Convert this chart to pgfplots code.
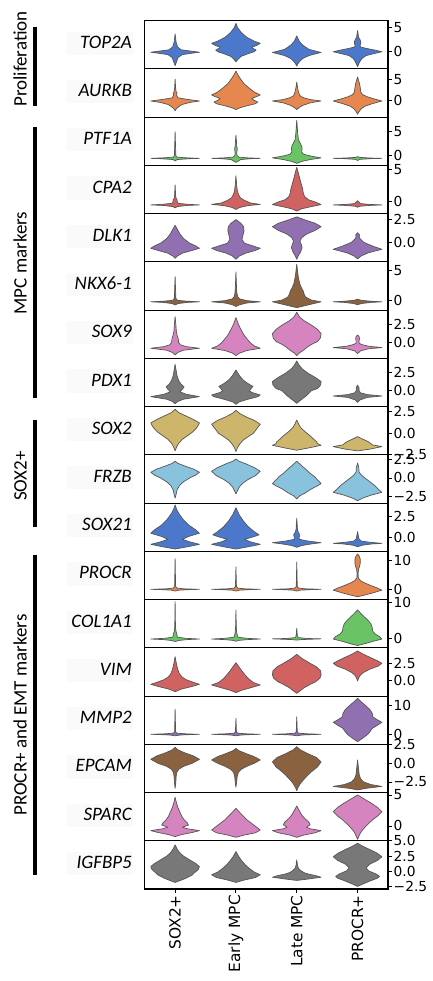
\documentclass[border=0pt]{standalone}
\usepackage{pgfplots}
\pgfplotsset{compat=1.18}
\usepackage{fontspec}
\setmainfont{DejaVu Sans}
\newfontfamily\carlito{Carlito}
\newfontfamily\dejavu{DejaVu Sans}
\newcommand\ticfont{\dejavu\fontsize{13.8}{15}\selectfont}
\newcommand\xfont{\dejavu\fontsize{15.4}{17}\selectfont}

\definecolor{mblue}{HTML}{4C78CC}
\definecolor{morange}{HTML}{E6874F}
\definecolor{mgreen}{HTML}{6AC466}
\definecolor{mred}{HTML}{D06262}
\definecolor{mpurple}{HTML}{9070B0}
\definecolor{mbrown}{HTML}{8A6240}
\definecolor{mpink}{HTML}{D684C0}
\definecolor{mgrey}{HTML}{787878}
\definecolor{mkhaki}{HTML}{CDB56C}
\definecolor{mcyan}{HTML}{88C2DC}
\definecolor{vedge}{HTML}{555555}

% violin: #1 category position, #2 colour, #3 list of y/relative half width
\newcommand\violin[3]{%
  \gdef\vR{}\gdef\vL{}%
  \foreach \yy/\ww in {#3}{%
    \pgfmathsetmacro\xr{#1+0.4*\ww}%
    \pgfmathsetmacro\xl{#1-0.4*\ww}%
    \xdef\vR{\vR(\xr,\yy)}%
    \xdef\vL{(\xl,\yy)\vL}%
  }%
  \edef\vtmp{\noexpand\addplot[draw=vedge, line width=0.7pt, line join=round, fill=#2] coordinates {\vR\vL} -- cycle;}%
  \vtmp
}

\pgfplotsset{
  vrow/.style={
    scale only axis, width=243.3pt, height=48.24pt,
    anchor=north west,
    xmin=-0.5, xmax=3.5, xtick=\empty,
    ytick pos=right, yticklabel pos=right,
    tick align=outside, major tick length=4pt,
    tick style={black, line width=0.9pt},
    axis line style={line width=1.1pt, black},
    yticklabel style={font=\ticfont, inner sep=1.5pt},
    axis on top,
  },
}

\begin{document}
\begin{tikzpicture}
\path[use as bounding box] (0,0) rectangle (433pt,-981pt);

% gene labels with light background
\foreach \g [count=\i from 0] in {TOP2A,AURKB,PTF1A,CPA2,DLK1,NKX6-1,SOX9,PDX1,SOX2,FRZB,SOX21,PROCR,COL1A1,VIM,MMP2,EPCAM,SPARC,IGFBP5}{
  \pgfmathsetmacro\cy{20.7+48.24*\i+24.12}
  \fill[black!2] (67pt,{-(\cy-13.1)*1pt}) rectangle (133pt,{-(\cy+10.2)*1pt});
  \node[anchor=base east, inner sep=0pt, font=\carlito\itshape\fontsize{19}{20}\selectfont] at (132pt,{-(\cy+3.5)*1pt}) {\g};
}

% group brackets
\fill[black] (33.3pt,-26.7pt) rectangle (37.3pt,-106pt);
\fill[black] (33.3pt,-126.7pt) rectangle (37.3pt,-398.3pt);
\fill[black] (33.3pt,-420pt) rectangle (37.3pt,-526.7pt);
\fill[black] (33.3pt,-555pt) rectangle (37.3pt,-875pt);
\begin{scope}[every node/.style={rotate=90, anchor=base, inner sep=0pt, font=\carlito\fontsize{19}{20}\selectfont}]
\node at (26.7pt,-59pt) {Proliferation};
\node at (26.7pt,-263pt) {MPC markers};
\node at (26.7pt,-476pt) {SOX2+};
\node at (26.7pt,-715pt) {PROCR+ and EMT markers};
\end{scope}

% 1 TOP2A
\begin{axis}[vrow, at={(144.7pt,-20.7pt)}, ymin=-3.58, ymax=6.46, ytick={0,5}, yticklabels={0,5}]
\violin{0}{mblue}{-2.9/0, -2.2/0.05, -1.2/0.12, -0.6/0.3, -0.3/0.7, -0.1/1, 0.1/0.7, 0.4/0.25, 1.0/0.1, 2.0/0.04, 3.7/0}
\violin{1}{mblue}{-2.1/0, -1.6/0.08, -1.0/0.2, -0.4/0.5, 0.0/0.75, 0.35/0.83, 0.7/0.7, 0.95/0.65, 1.3/0.85, 1.75/1, 2.2/0.75, 3.0/0.45, 4.0/0.22, 5.0/0.07, 5.9/0}
\violin{2}{mblue}{-3.0/0, -2.5/0.05, -2.0/0.12, -1.4/0.25, -0.8/0.5, -0.4/0.8, -0.15/1, 0.1/0.8, 0.5/0.5, 1.0/0.35, 1.5/0.22, 2.2/0.1, 3.3/0}
\violin{3}{mblue}{-3.1/0, -2.5/0.05, -2.0/0.1, -1.4/0.18, -0.8/0.35, -0.3/0.75, 0.0/1, 0.35/0.7, 0.7/0.35, 1.0/0.12, 1.3/0.1, 1.7/0.13, 2.1/0.13, 2.5/0.1, 3.0/0.04, 4.4/0}
\end{axis}

% 2 AURKB
\begin{axis}[vrow, at={(144.7pt,-68.94pt)}, ymin=-4.02, ymax=7.52, ytick={0,5}, yticklabels={0,5}]
\violin{0}{morange}{-2.5/0, -2.0/0.05, -1.5/0.15, -1.0/0.28, -0.5/0.6, -0.15/1, 0.2/0.55, 0.6/0.12, 1.2/0.06, 1.7/0.08, 2.1/0.04, 3/0.02, 5.1/0}
\violin{1}{morange}{-2.2/0, -1.8/0.15, -1.3/0.45, -0.8/0.8, -0.4/0.9, 0.0/0.75, 0.45/0.65, 0.9/0.85, 1.3/1, 2.0/0.75, 2.9/0.55, 4.0/0.33, 5.2/0.18, 6.2/0.07, 7.0/0}
\violin{2}{morange}{-2.2/0, -1.7/0.1, -1.2/0.25, -0.6/0.55, -0.15/1, 0.2/0.55, 0.6/0.3, 1.0/0.15, 1.5/0.1, 2.2/0.06, 3.2/0.03, 4.4/0}
\violin{3}{morange}{-3.3/0, -2.7/0.06, -2.0/0.15, -1.4/0.3, -0.8/0.6, -0.15/1, 0.4/0.65, 0.9/0.38, 1.4/0.2, 2.0/0.13, 3.0/0.11, 4.0/0.08, 4.8/0.04, 5.6/0}
\end{axis}

% 3 PTF1A
\begin{axis}[vrow, at={(144.7pt,-117.18pt)}, ymin=-2.02, ymax=8.02, ytick={0,5}, yticklabels={0,5}]
\violin{0}{mgreen}{-1.1/0, -0.8/0.08, -0.62/0.6, -0.55/1, -0.45/0.5, -0.3/0.08, 0.0/0.03, 1.5/0.02, 5.0/0}
\violin{1}{mgreen}{-1.4/0, -1.1/0.1, -0.8/0.2, -0.62/0.6, -0.55/1, -0.45/0.5, -0.3/0.12, 0.0/0.05, 0.5/0.03, 1.2/0.05, 1.6/0.05, 2.0/0.03, 3.0/0.02, 4.3/0}
\violin{2}{mgreen}{-1.6/0, -1.2/0.2, -0.8/0.55, -0.45/1, -0.1/0.6, 0.3/0.28, 0.8/0.2, 1.4/0.22, 2.0/0.2, 2.6/0.14, 3.3/0.07, 4.5/0.04, 6/0.02, 7.4/0}
\violin{3}{mgreen}{-1.0/0, -0.75/0.1, -0.6/0.6, -0.55/1, -0.48/0.5, -0.35/0.1, -0.2/0}
\end{axis}

% 4 CPA2
\begin{axis}[vrow, at={(144.7pt,-165.42pt)}, ymin=-1.85, ymax=5.6, ytick={0,5}, yticklabels={0,5}]
\violin{0}{mred}{-0.95/0, -0.75/0.1, -0.58/0.5, -0.5/1, -0.4/0.5, -0.25/0.12, -0.05/0.09, 0.3/0.08, 0.5/0.04, 1.0/0.02, 2.6/0}
\violin{1}{mred}{-1.2/0, -0.9/0.15, -0.6/0.5, -0.42/1, -0.2/0.6, 0.2/0.35, 0.6/0.18, 1.0/0.12, 1.6/0.06, 2.5/0.03, 4.0/0}
\violin{2}{mred}{-1.45/0, -1.1/0.2, -0.8/0.55, -0.45/1, -0.1/0.8, 0.3/0.48, 0.8/0.32, 1.3/0.27, 2.0/0.24, 2.8/0.18, 3.6/0.12, 4.5/0.06, 5.3/0}
\violin{3}{mred}{-0.85/0, -0.7/0.1, -0.58/0.5, -0.5/1, -0.42/0.5, -0.3/0.12, -0.1/0.07, 0.15/0}
\end{axis}

% 5 DLK1
\begin{axis}[vrow, at={(144.7pt,-213.66pt)}, ymin=-2.16, ymax=3.15, ytick={0,2.5}, yticklabels={0.0,2.5}]
\violin{0}{mpurple}{-1.76/0, -1.5/0.1, -1.2/0.3, -0.9/0.7, -0.66/1, -0.4/0.85, -0.1/0.6, 0.4/0.35, 0.9/0.2, 1.3/0.12, 1.87/0}
\violin{1}{mpurple}{-1.87/0, -1.5/0.15, -1.2/0.4, -0.9/0.8, -0.66/1, -0.4/0.7, -0.1/0.35, 0.3/0.25, 0.7/0.28, 1.2/0.33, 1.7/0.32, 2.1/0.2, 2.5/0}
\violin{2}{mpurple}{-1.87/0, -1.5/0.06, -1.1/0.15, -0.6/0.22, -0.2/0.18, 0.1/0.13, 0.5/0.2, 0.9/0.4, 1.3/0.75, 1.72/1, 2.1/0.75, 2.45/0.35, 2.8/0}
\violin{3}{mpurple}{-1.83/0, -1.5/0.15, -1.15/0.45, -0.77/1, -0.4/0.6, 0.0/0.25, 0.4/0.1, 0.6/0.06, 0.8/0.08, 1.06/0}
\end{axis}

% 6 NKX6-1
\begin{axis}[vrow, at={(144.7pt,-261.9pt)}, ymin=-1.72, ymax=6.5, ytick={0,5}, yticklabels={0,5}]
\violin{0}{mbrown}{-0.85/0, -0.6/0.12, -0.4/0.5, -0.3/1, -0.2/0.5, -0.05/0.1, 0.3/0.03, 4.0/0}
\violin{1}{mbrown}{-1.1/0, -0.8/0.15, -0.5/0.45, -0.3/1, -0.1/0.45, 0.2/0.15, 0.6/0.07, 1.2/0.04, 2.5/0.02, 4.8/0}
\violin{2}{mbrown}{-1.3/0, -1.0/0.3, -0.6/0.7, -0.3/1, 0.0/0.6, 0.5/0.37, 1.0/0.3, 1.5/0.27, 2.0/0.2, 2.8/0.12, 4.0/0.06, 5/0.03, 6.1/0}
\violin{3}{mbrown}{-0.8/0, -0.6/0.15, -0.4/0.55, -0.3/1, -0.2/0.55, -0.05/0.15, 0.15/0}
\end{axis}

% 7 SOX9
\begin{axis}[vrow, at={(144.7pt,-310.14pt)}, ymin=-2.24, ymax=4.47, ytick={0,2.5}, yticklabels={0.0,2.5}]
\violin{0}{mpink}{-1.76/0, -1.4/0.12, -1.1/0.35, -0.83/1, -0.6/0.45, -0.35/0.22, 0.0/0.14, 0.5/0.13, 1.0/0.08, 1.5/0.05, 2.5/0.03, 3.56/0}
\violin{1}{mpink}{-1.85/0, -1.5/0.15, -1.15/0.45, -0.83/1, -0.5/0.75, -0.1/0.6, 0.5/0.45, 1.0/0.33, 1.5/0.25, 2.0/0.17, 2.6/0.09, 3.43/0}
\violin{2}{mpink}{-1.85/0, -1.5/0.1, -1.1/0.28, -0.7/0.42, -0.3/0.6, 0.1/0.85, 0.6/0.97, 1.2/1, 1.8/0.85, 2.4/0.6, 3.0/0.3, 3.5/0.12, 4.17/0}
\violin{3}{mpink}{-1.57/0, -1.2/0.12, -0.9/0.45, -0.74/1, -0.55/0.45, -0.3/0.15, -0.1/0.06, 0.2/0.06, 0.5/0.08, 0.8/0.06, 1.0/0}
\end{axis}

% 8 PDX1
\begin{axis}[vrow, at={(144.7pt,-358.38pt)}, ymin=-2.35, ymax=4.47, ytick={0,2.5}, yticklabels={0.0,2.5}]
\violin{0}{mgrey}{-1.93/0, -1.6/0.12, -1.3/0.35, -0.94/1, -0.6/0.45, -0.25/0.2, 0.1/0.3, 0.45/0.37, 0.8/0.25, 1.3/0.15, 2.0/0.08, 2.8/0.04, 3.63/0}
\violin{1}{mgrey}{-2.03/0, -1.7/0.12, -1.35/0.45, -0.95/0.9, -0.7/1, -0.4/0.7, -0.15/0.55, 0.2/0.62, 0.5/0.7, 0.9/0.5, 1.4/0.3, 2.0/0.15, 2.83/0}
\violin{2}{mgrey}{-1.9/0, -1.6/0.1, -1.2/0.25, -0.8/0.4, -0.4/0.52, -0.1/0.6, 0.2/0.85, 0.7/0.98, 1.2/1, 1.8/0.75, 2.4/0.45, 3.0/0.22, 3.5/0.1, 4.1/0}
\violin{3}{mgrey}{-1.75/0, -1.4/0.1, -1.05/0.4, -0.85/1, -0.65/0.4, -0.4/0.12, -0.1/0.06, 0.3/0.06, 0.5/0.03, 0.7/0}
\end{axis}

% 9 SOX2
\begin{axis}[vrow, at={(144.7pt,-406.62pt)}, ymin=-2.51, ymax=3.09, ytick={-2.5,0,2.5}, yticklabels={−2.5,0.0,2.5}]
\violin{0}{mkhaki}{-2.05/0, -1.6/0.06, -1.15/0.15, -0.7/0.3, -0.3/0.5, 0.1/0.7, 0.5/0.85, 0.9/0.95, 1.2/1, 1.6/0.75, 2.0/0.45, 2.4/0.15, 2.78/0}
\violin{1}{mkhaki}{-2.12/0, -1.7/0.06, -1.3/0.14, -0.8/0.3, -0.4/0.5, 0.0/0.72, 0.5/0.85, 1.04/1, 1.5/0.75, 1.9/0.42, 2.3/0.15, 2.66/0}
\violin{2}{mkhaki}{-1.97/0, -1.7/0.5, -1.4/1, -1.2/0.85, -1.0/0.82, -0.7/0.7, -0.3/0.55, 0.2/0.33, 0.7/0.15, 1.1/0.07, 1.54/0}
\violin{3}{mkhaki}{-2.05/0, -1.85/0.5, -1.55/1, -1.35/0.6, -1.2/0.55, -0.95/0.42, -0.7/0.22, -0.5/0.08, -0.39/0}
\end{axis}

% 10 FRZB
\begin{axis}[vrow, at={(144.7pt,-454.86pt)}, ymin=-3.36, ymax=3.09, ytick={-2.5,0,2.5}, yticklabels={−2.5,0.0,2.5}]
\violin{0}{mcyan}{-2.68/0, -2.2/0.04, -1.6/0.08, -1.0/0.18, -0.5/0.35, 0.0/0.6, 0.4/0.85, 0.76/1, 1.2/0.75, 1.6/0.4, 1.95/0.12, 2.23/0}
\violin{1}{mcyan}{-2.14/0, -1.7/0.06, -1.2/0.14, -0.7/0.28, -0.2/0.5, 0.3/0.8, 0.9/1, 1.4/0.75, 1.9/0.4, 2.25/0.12, 2.54/0}
\violin{2}{mcyan}{-2.8/0, -2.4/0.12, -2.0/0.35, -1.5/0.58, -1.1/0.82, -0.76/1, -0.3/0.87, 0.2/0.72, 0.7/0.52, 1.2/0.36, 1.7/0.18, 2.0/0.08, 2.23/0}
\violin{3}{mcyan}{-3.04/0, -2.7/0.2, -2.3/0.55, -1.92/1, -1.5/0.85, -1.0/0.7, -0.5/0.5, 0.0/0.3, 0.4/0.15, 0.8/0.06, 1.4/0.05, 2.0/0}
\end{axis}

% 11 SOX21
\begin{axis}[vrow, at={(144.7pt,-503.1pt)}, ymin=-1.70, ymax=4.15, ytick={0,2.5}, yticklabels={0.0,2.5}]
\violin{0}{mblue}{-1.42/0, -1.15/0.5, -0.85/1, -0.55/0.6, -0.25/0.3, 0.1/0.55, 0.5/1, 0.9/0.85, 1.5/0.55, 2.2/0.32, 2.9/0.15, 3.4/0.06, 3.93/0}
\violin{1}{mblue}{-1.42/0, -1.15/0.5, -0.85/1, -0.55/0.6, -0.25/0.35, 0.05/0.7, 0.3/0.95, 0.7/0.75, 1.3/0.5, 2.0/0.3, 2.7/0.14, 3.2/0.06, 3.6/0}
\violin{2}{mblue}{-1.21/0, -1.0/0.2, -0.8/0.6, -0.65/1, -0.45/0.45, -0.25/0.12, -0.05/0.08, 0.15/0.12, 0.35/0.12, 0.55/0.07, 0.9/0.03, 2.3/0}
\violin{3}{mblue}{-1.13/0, -0.95/0.2, -0.8/0.6, -0.73/1, -0.6/0.5, -0.45/0.15, -0.2/0.06, 0.2/0.03, 0.69/0}
\end{axis}

% 12 PROCR
\begin{axis}[vrow, at={(144.7pt,-551.34pt)}, ymin=-3.6, ymax=13.3, ytick={0,10}, yticklabels={0,10}]
\violin{0}{morange}{-0.6/0, -0.3/0.15, -0.1/0.6, 0.0/1, 0.15/0.4, 0.4/0.08, 1.0/0.02, 10.8/0}
\violin{1}{morange}{-0.6/0, -0.3/0.15, -0.1/0.6, 0.0/1, 0.15/0.4, 0.4/0.08, 1.0/0.02, 7.9/0}
\violin{2}{morange}{-0.6/0, -0.3/0.15, -0.1/0.6, 0.0/1, 0.15/0.4, 0.4/0.08, 1.0/0.02, 9.6/0}
\violin{3}{morange}{-2.6/0, -2.0/0.3, -1.2/0.65, -0.3/1, 0.5/0.8, 1.3/0.55, 2.2/0.3, 3.0/0.12, 4.0/0.03, 5.5/0.02, 7.0/0.04, 8.0/0.08, 9.2/0.11, 10.5/0.11, 11.6/0.07, 12.4/0}
\end{axis}

% 13 COL1A1
\begin{axis}[vrow, at={(144.7pt,-599.58pt)}, ymin=-2.64, ymax=10.75, ytick={0,10}, yticklabels={0,10}]
\violin{0}{mgreen}{-0.9/0, -0.6/0.15, -0.35/0.5, -0.2/1, 0.0/0.45, 0.3/0.1, 0.7/0.08, 1.2/0.07, 1.8/0.04, 3/0.015, 10.2/0}
\violin{1}{mgreen}{-0.8/0, -0.55/0.15, -0.35/0.5, -0.2/1, 0.0/0.45, 0.3/0.08, 0.7/0.06, 1.1/0.05, 1.6/0.03, 3/0.015, 7.9/0}
\violin{2}{mgreen}{-0.5/0, -0.35/0.2, -0.25/0.6, -0.15/1, -0.05/0.45, 0.2/0.05, 1.0/0.02, 2.8/0}
\violin{3}{mgreen}{-2.0/0, -1.5/0.3, -0.8/0.65, -0.2/1, 0.5/0.9, 1.2/0.72, 2.0/0.62, 3.0/0.6, 4.0/0.55, 5.0/0.43, 6.0/0.27, 7.0/0.12, 7.9/0}
\end{axis}

% 14 VIM
\begin{axis}[vrow, at={(144.7pt,-647.82pt)}, ymin=-2.32, ymax=4.78, ytick={0,2.5}, yticklabels={0.0,2.5}]
\violin{0}{mred}{-1.67/0, -1.3/0.25, -0.9/0.7, -0.59/1, -0.3/0.75, 0.1/0.45, 0.5/0.28, 1.0/0.17, 1.7/0.1, 2.5/0.05, 3.48/0}
\violin{1}{mred}{-1.81/0, -1.45/0.25, -1.05/0.65, -0.69/1, -0.3/0.7, 0.3/0.5, 0.9/0.35, 1.5/0.22, 2.1/0.1, 2.6/0}
\violin{2}{mred}{-1.91/0, -1.6/0.12, -1.1/0.3, -0.6/0.55, -0.2/0.78, 0.3/0.95, 0.8/1, 1.4/0.98, 2.0/0.8, 2.6/0.5, 3.2/0.22, 3.82/0}
\violin{3}{mred}{-0.1/0, 0.3/0.04, 0.7/0.1, 1.1/0.22, 1.6/0.48, 2.1/0.85, 2.5/1, 2.9/0.8, 3.4/0.5, 3.9/0.2, 4.31/0}
\end{axis}

% 15 MMP2
\begin{axis}[vrow, at={(144.7pt,-696.06pt)}, ymin=-3.41, ymax=13.04, ytick={0,10}, yticklabels={0,10}]
\violin{0}{mpurple}{-0.5/0, -0.25/0.2, -0.1/0.6, 0.0/1, 0.15/0.45, 0.4/0.06, 1.0/0.02, 8.6/0}
\violin{1}{mpurple}{-0.5/0, -0.25/0.2, -0.1/0.6, 0.0/1, 0.15/0.45, 0.4/0.06, 1.0/0.02, 5.45/0}
\violin{2}{mpurple}{-0.5/0, -0.25/0.2, -0.1/0.6, 0.0/1, 0.15/0.45, 0.4/0.06, 1.0/0.02, 6.0/0}
\violin{3}{mpurple}{-2.5/0, -1.4/0.2, 0.0/0.42, 1.0/0.52, 2.0/0.6, 3.0/0.8, 4.1/1, 5.0/0.8, 6.0/0.62, 7.2/0.6, 8.5/0.5, 10.0/0.3, 11.3/0.12, 12.3/0}
\end{axis}

% 16 EPCAM
\begin{axis}[vrow, at={(144.7pt,-744.3pt)}, ymin=-3.92, ymax=2.55, ytick={-2.5,0,2.5}, yticklabels={−2.5,0.0,2.5}]
\violin{0}{mbrown}{-3.35/0, -2.5/0.03, -1.8/0.04, -1.2/0.07, -0.8/0.15, -0.4/0.35, 0.0/0.7, 0.54/1, 1.0/0.75, 1.4/0.4, 1.8/0.12, 2.14/0}
\violin{1}{mbrown}{-3.2/0, -2.5/0.03, -1.8/0.05, -1.2/0.1, -0.8/0.22, -0.4/0.45, 0.0/0.75, 0.45/1, 0.9/0.75, 1.3/0.42, 1.7/0.12, 2.0/0}
\violin{2}{mbrown}{-3.66/0, -3.2/0.06, -2.7/0.15, -2.2/0.28, -1.6/0.45, -1.0/0.65, -0.5/0.85, 0.2/1, 0.8/0.8, 1.3/0.45, 1.8/0.15, 2.23/0}
\violin{3}{mbrown}{-3.57/0, -3.35/0.35, -3.1/1, -2.85/0.55, -2.5/0.25, -2.1/0.13, -1.6/0.07, -0.8/0.04, 0.45/0}
\end{axis}

% 17 SPARC
\begin{axis}[vrow, at={(144.7pt,-792.54pt)}, ymin=-2.39, ymax=5.39, ytick={0,5}, yticklabels={0,5}]
\violin{0}{mpink}{-1.72/0, -1.4/0.25, -1.05/0.7, -0.75/1, -0.45/0.5, -0.2/0.3, 0.15/0.55, 0.5/0.5, 1.0/0.37, 1.5/0.28, 2.2/0.2, 3.0/0.11, 3.8/0.05, 4.62/0}
\violin{1}{mpink}{-1.83/0, -1.5/0.3, -1.1/0.8, -0.65/1, -0.2/0.85, 0.4/0.65, 1.0/0.45, 1.6/0.3, 2.2/0.15, 2.85/0}
\violin{2}{mpink}{-1.83/0, -1.5/0.25, -1.1/0.75, -0.75/1, -0.45/0.55, -0.2/0.4, 0.2/0.55, 0.6/0.5, 1.2/0.33, 1.8/0.2, 2.5/0.1, 3.23/0}
\violin{3}{mpink}{-2.15/0, -1.5/0.07, -0.9/0.15, -0.3/0.28, 0.4/0.45, 1.0/0.62, 1.6/0.82, 2.3/1, 3.0/0.82, 3.7/0.55, 4.4/0.25, 5.0/0}
\end{axis}

% 18 IGFBP5
\begin{axis}[vrow, at={(144.7pt,-840.78pt)}, ymin=-2.88, ymax=5.02, ytick={-2.5,0,2.5,5}, yticklabels={−2.5,0.0,2.5,5.0},
  xtick={0,1,2,3}, xticklabels={SOX2+,Early MPC,Late MPC,PROCR+}, xtick pos=bottom,
  xticklabel style={rotate=90, anchor=east, font=\xfont, inner sep=2pt}]
\violin{0}{mgrey}{-1.8/0, -1.5/0.2, -1.1/0.45, -0.6/0.7, -0.2/0.8, 0.3/0.95, 0.8/1, 1.3/0.85, 1.9/0.6, 2.5/0.35, 3.1/0.18, 3.7/0.08, 4.35/0}
\violin{1}{mgrey}{-1.8/0, -1.4/0.35, -1.0/0.8, -0.54/1, -0.1/0.75, 0.5/0.55, 1.1/0.38, 1.7/0.25, 2.4/0.12, 3.26/0}
\violin{2}{mgrey}{-1.47/0, -1.25/0.45, -0.95/1, -0.7/0.8, -0.45/0.5, -0.2/0.3, 0.1/0.18, 0.5/0.07, 1.0/0.03, 1.9/0}
\violin{3}{mgrey}{-2.45/0, -2.0/0.25, -1.5/0.55, -1.1/0.82, -0.8/0.9, -0.4/0.75, 0.1/0.45, 0.6/0.35, 1.2/0.5, 1.8/0.82, 2.4/1, 3.0/0.8, 3.6/0.5, 4.1/0.22, 4.62/0}
\end{axis}
\end{tikzpicture}
\end{document}
